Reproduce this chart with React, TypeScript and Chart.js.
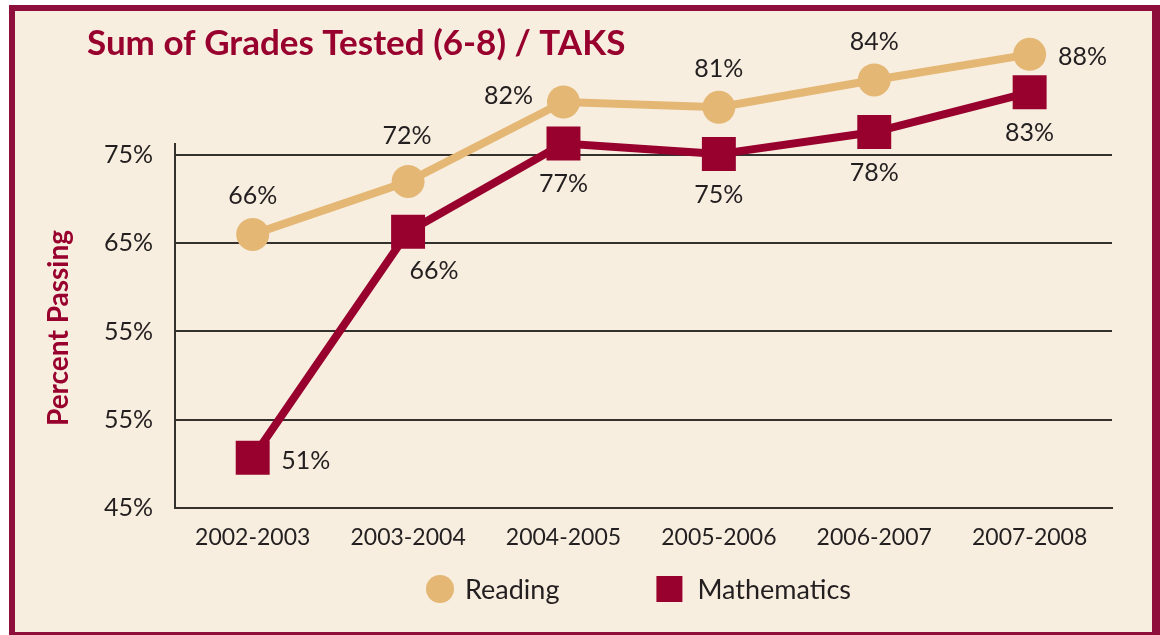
import React, { useEffect, useRef } from 'react';
import { Chart, registerables } from 'chart.js';

Chart.register(...registerables);

// ---- data ----
const categories = ['2002-2003', '2003-2004', '2004-2005', '2005-2006', '2006-2007', '2007-2008'];
const yTickValues = [45, 55, 65, 75, 85];
const yTickLabels = ['45%', '55%', '55%', '65%', '75%'];
const yAxisTop = 86.36; // where the drawn y axis line ends
// heights of the marks as drawn in the picture, read on the gridline scale
const readingValues = [76.0, 82.0, 91.0, 90.4, 93.5, 96.4];
const mathValues = [50.7, 76.3, 86.3, 85.1, 87.6, 92.1];
// printed value labels
const readingLabels = ['66%', '72%', '82%', '81%', '84%', '88%'];
const mathLabels = ['51%', '66%', '77%', '75%', '78%', '83%'];
const readingLabelPlacement = ['top', 'topFar', 'left', 'top', 'top', 'right'];
const mathLabelPlacement = ['right', 'bottomRight', 'bottom', 'bottom', 'bottom', 'bottom'];

const TITLE = 'Sum of Grades Tested (6-8) / TAKS';
const Y_TITLE = 'Percent Passing';

// ---- styles ----
const FONT = 'Lato';
const CREAM = '#F8EEDF';
const FRAME = '#8E0F3C';
const CRIMSON = '#98002E';
const TAN = '#E4B775';
const INK = '#231F20';
const GRID = '#33302E';

const placementOffset: Record<string, [number, number]> = {
  top: [0, -39],
  topFar: [-1, -46],
  bottom: [0, 40],
  left: [-55, -7],
  right: [53, 2],
  bottomRight: [26, 38],
};

const decorPlugin = {
  id: 'decor',
  beforeDraw(chart: any) {
    const { ctx, width, height } = chart;
    ctx.save();
    ctx.fillStyle = '#FFFFFF';
    ctx.fillRect(0, 0, width, height);
    ctx.fillStyle = FRAME;
    ctx.fillRect(9, 5, width - 9, height - 5);
    ctx.fillStyle = CREAM;
    ctx.fillRect(15, 11, width - 8 - 15, height - 3 - 11);
    ctx.restore();
  },
  beforeDatasetsDraw(chart: any) {
    const { ctx, chartArea, scales } = chart;
    const yTop = scales.y.getPixelForValue(yAxisTop);
    ctx.save();
    ctx.strokeStyle = GRID;
    ctx.lineWidth = 2;
    ctx.beginPath();
    ctx.moveTo(chartArea.left, yTop);
    ctx.lineTo(chartArea.left, chartArea.bottom + 1);
    ctx.stroke();
    ctx.restore();
  },
  afterDraw(chart: any) {
    const { ctx } = chart;
    ctx.save();
    // title
    ctx.fillStyle = CRIMSON;
    ctx.font = `bold 35px ${FONT}`;
    ctx.textAlign = 'left';
    ctx.textBaseline = 'alphabetic';
    ctx.fillText(TITLE, 87, 55);
    // y axis title
    ctx.save();
    ctx.translate(68, 328);
    ctx.rotate(-Math.PI / 2);
    ctx.font = `bold 28px ${FONT}`;
    ctx.textAlign = 'center';
    ctx.fillText(Y_TITLE, 0, 0);
    ctx.restore();
    // legend
    const fs = 27;
    ctx.font = `${fs}px ${FONT}`;
    const names = chart.data.datasets.map((d: any) => d.label);
    const w0 = ctx.measureText(names[0]).width;
    const cy = 589;
    let x = 426;
    ctx.fillStyle = TAN;
    ctx.beginPath();
    ctx.arc(x + 14, cy, 14, 0, Math.PI * 2);
    ctx.fill();
    x += 28 + 11;
    ctx.fillStyle = INK;
    ctx.textAlign = 'left';
    ctx.textBaseline = 'alphabetic';
    ctx.fillText(names[0], x, cy + 0.358 * fs);
    x += w0 + 97;
    ctx.fillStyle = CRIMSON;
    ctx.fillRect(x, cy - 13, 26, 26);
    x += 26 + 15;
    ctx.fillStyle = INK;
    ctx.fillText(names[1], x, cy + 0.358 * fs);
    ctx.restore();
  },
  afterDatasetsDraw(chart: any) {
    const { ctx } = chart;
    const sets = [
      { labels: readingLabels, place: readingLabelPlacement, idx: 0 },
      { labels: mathLabels, place: mathLabelPlacement, idx: 1 },
    ];
    ctx.save();
    const fs = 25;
    ctx.font = `${fs}px ${FONT}`;
    ctx.fillStyle = INK;
    ctx.textAlign = 'center';
    ctx.textBaseline = 'alphabetic';
    sets.forEach((s) => {
      const meta = chart.getDatasetMeta(s.idx);
      meta.data.forEach((pt: any, i: number) => {
        const [dx, dy] = placementOffset[s.place[i]];
        ctx.fillText(s.labels[i], pt.x + dx, pt.y + dy + 0.358 * fs);
      });
    });
    ctx.restore();
  },
};

export default function App() {
  const ref = useRef<HTMLCanvasElement | null>(null);
  useEffect(() => {
    if (!ref.current) return;
    const chart = new Chart(ref.current, {
      type: 'line',
      data: {
        datasets: [
          {
            label: 'Reading',
            data: readingValues.map((v, i) => ({ x: i, y: v })),
            borderColor: TAN,
            backgroundColor: TAN,
            borderWidth: 8,
            pointStyle: 'circle',
            pointRadius: 16.5,
            pointBorderWidth: 0,
            pointBackgroundColor: TAN,
            tension: 0,
            clip: false,
          } as any,
          {
            label: 'Mathematics',
            data: mathValues.map((v, i) => ({ x: i, y: v })),
            borderColor: CRIMSON,
            backgroundColor: CRIMSON,
            borderWidth: 8,
            pointStyle: 'rect',
            pointRadius: 24,
            pointBorderWidth: 0,
            pointBackgroundColor: CRIMSON,
            tension: 0,
            clip: false,
          } as any,
        ],
      },
      options: {
        responsive: false,
        animation: false,
        layout: { padding: { top: 45, right: 48, bottom: 0, left: 0 } },
        plugins: {
          legend: { display: false },
          title: { display: false },
          tooltip: { enabled: false },
        },
        scales: {
          x: {
            type: 'linear',
            min: -0.5,
            max: 5.53,
            grid: { display: false },
            border: { display: true, color: GRID, width: 2 },
            afterBuildTicks: (scale: any) => {
              scale.ticks = categories.map((_, i) => ({ value: i }));
            },
            afterFit: (scale: any) => {
              scale.height = 127;
            },
            ticks: {
              autoSkip: false,
              maxRotation: 0,
              padding: 8,
              color: INK,
              font: { family: FONT, size: 23 },
              callback: (v: any) => categories[Math.round(Number(v))] ?? '',
            },
          },
          y: {
            type: 'linear',
            min: 45,
            max: 97.46,
            afterBuildTicks: (scale: any) => {
              scale.ticks = yTickValues.map((v) => ({ value: v }));
            },
            afterFit: (scale: any) => {
              scale.width = 175;
            },
            grid: { color: GRID, lineWidth: 2, drawTicks: false },
            border: { display: false },
            ticks: {
              padding: 22,
              color: INK,
              font: { family: FONT, size: 25 },
              callback: (_v: any, i: number) => yTickLabels[i],
            },
          },
        },
      } as any,
      plugins: [decorPlugin],
    });
    return () => chart.destroy();
  }, []);
  return (
    <div style={{ position: 'fixed', left: 0, top: 0, width: 1160, height: 635 }}>
      <canvas ref={ref} width={1160} height={635} style={{ display: 'block' }} />
    </div>
  );
}
